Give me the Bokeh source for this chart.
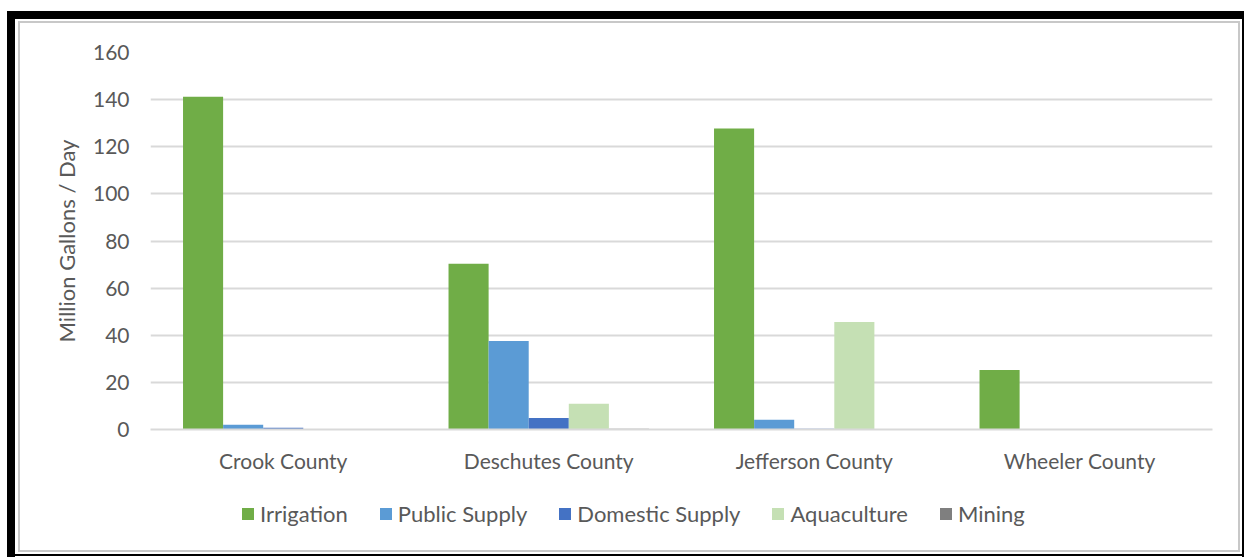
from bokeh.plotting import figure
from bokeh.layouts import column
from bokeh.models import (FactorRange, Range1d, FixedTicker, Legend, LegendItem,
                          ColumnDataSource, InlineStyleSheet)
from bokeh.transform import dodge
from bokeh.embed import file_html
from bokeh.resources import INLINE

# ---------------- data ----------------
counties = ["Crook County", "Deschutes County", "Jefferson County", "Wheeler County"]
uses = ["Irrigation", "Public Supply", "Domestic Supply", "Aquaculture", "Mining"]
irrigation = [141.2, 70.3, 127.7, 25.2]
public_supply = [2.0, 37.6, 4.1, 0.0]
domestic_supply = [0.7, 4.9, 0.3, 0.0]
aquaculture = [0.0, 10.9, 45.6, 0.0]
mining = [0.0, 0.3, 0.0, 0.0]
y_ticks = [0, 20, 40, 60, 80, 100, 120, 140, 160]
colors = ["#70AD47", "#5B9BD5", "#4472C4", "#C5E0B4", "#7F7F7F"]

FONT = "Lato"
TXT = "#595959"

src = ColumnDataSource(dict(county=counties, irrigation=irrigation,
                            public_supply=public_supply,
                            domestic_supply=domestic_supply,
                            aquaculture=aquaculture, mining=mining))
cols = ["irrigation", "public_supply", "domestic_supply", "aquaculture", "mining"]

W = 1244
H1, H2 = 480, 77            # chart part, legend part
FL, FT, FR, FB = 150, 52, 32, H1 - 429   # frame borders of the chart part

# outer frame of the chart image drawn as CSS backgrounds behind the canvases
frame_css = """
:host {
  background:
    linear-gradient(#000,#000) 7px 11px / 1237px 8px no-repeat,
    linear-gradient(#000,#000) 7px 11px / 8px 546px no-repeat,
    linear-gradient(#000,#000) 1242px 11px / 2px 546px no-repeat,
    linear-gradient(#000,#000) 7px 554px / 1237px 2px no-repeat,
    linear-gradient(#C8C8C8,#C8C8C8) 18px 21px / 1222px 2px no-repeat,
    linear-gradient(#C8C8C8,#C8C8C8) 18px 21px / 2px 531px no-repeat,
    linear-gradient(#C8C8C8,#C8C8C8) 1238px 21px / 2px 531px no-repeat,
    linear-gradient(#C8C8C8,#C8C8C8) 18px 550px / 1222px 2px no-repeat,
    #ffffff;
}
"""

x_range = FactorRange(factors=counties)

p = figure(width=W, height=H1, x_range=x_range,
           y_range=Range1d(0, 160), output_backend="svg", toolbar_location=None,
           min_border_left=FL, min_border_right=FR, min_border_top=FT,
           min_border_bottom=FB)
p.background_fill_color = "white"
p.border_fill_alpha = 0
p.outline_line_color = None

bw = 0.151
def add_bars(fig):
    rs = []
    for i, (c, col) in enumerate(zip(cols, colors)):
        rs.append(fig.vbar(x=dodge("county", (i - 2) * bw, range=x_range), top=c,
                           width=bw, bottom=0, source=src, fill_color=col,
                           line_color=None))
    return rs

add_bars(p)

# axes
p.yaxis.ticker = FixedTicker(ticks=y_ticks)
p.yaxis.axis_line_color = None
p.yaxis.major_tick_line_color = None
p.yaxis.minor_tick_line_color = None
p.yaxis.major_label_text_font = FONT
p.yaxis.major_label_text_font_size = "21px"
p.yaxis.major_label_text_color = TXT
p.yaxis.major_label_standoff = 15
p.yaxis.axis_label = "Million Gallons / Day"
p.yaxis.axis_label_text_font = FONT
p.yaxis.axis_label_text_font_style = "normal"
p.yaxis.axis_label_text_font_size = "22px"
p.yaxis.axis_label_text_color = TXT
p.yaxis.axis_label_standoff = 10

p.xaxis.axis_line_color = "#D9D9D9"
p.xaxis.axis_line_width = 2
p.xaxis.major_tick_line_color = None
p.xaxis.minor_tick_line_color = None
p.xaxis.major_label_text_font = FONT
p.xaxis.major_label_text_font_size = "21px"
p.xaxis.major_label_text_color = TXT
p.xaxis.major_label_standoff = 12

p.xgrid.grid_line_color = None
p.ygrid.grid_line_color = "#D9D9D9"
p.ygrid.grid_line_width = 2

# legend strip below the chart (same bars, out of its visible y range)
lg = figure(width=W, height=H2, x_range=x_range, y_range=Range1d(1000, 1077),
            output_backend="svg", toolbar_location=None,
            x_axis_type=None, y_axis_type=None,
            min_border_left=FL, min_border_right=FR, min_border_top=0,
            min_border_bottom=0)
lg.background_fill_alpha = 0
lg.border_fill_alpha = 0
lg.outline_line_color = None
lg.grid.grid_line_color = None
leg_renderers = add_bars(lg)

items = [LegendItem(label=u, renderers=[r]) for u, r in zip(uses, leg_renderers)]
legend = Legend(items=items, orientation="horizontal", location=(240 - FL, 30))
legend.label_text_font = FONT
legend.label_text_font_size = "22px"
legend.label_text_color = TXT
legend.glyph_width = 15
legend.glyph_height = 15
legend.label_standoff = 5
legend.spacing = 30
legend.padding = 0
legend.margin = 0
legend.border_line_color = None
legend.background_fill_alpha = 0
lg.add_layout(legend, "center")

layout = column(p, lg, spacing=0, stylesheets=[InlineStyleSheet(css=frame_css)])

open("out.html", "w").write(file_html(layout, INLINE))
